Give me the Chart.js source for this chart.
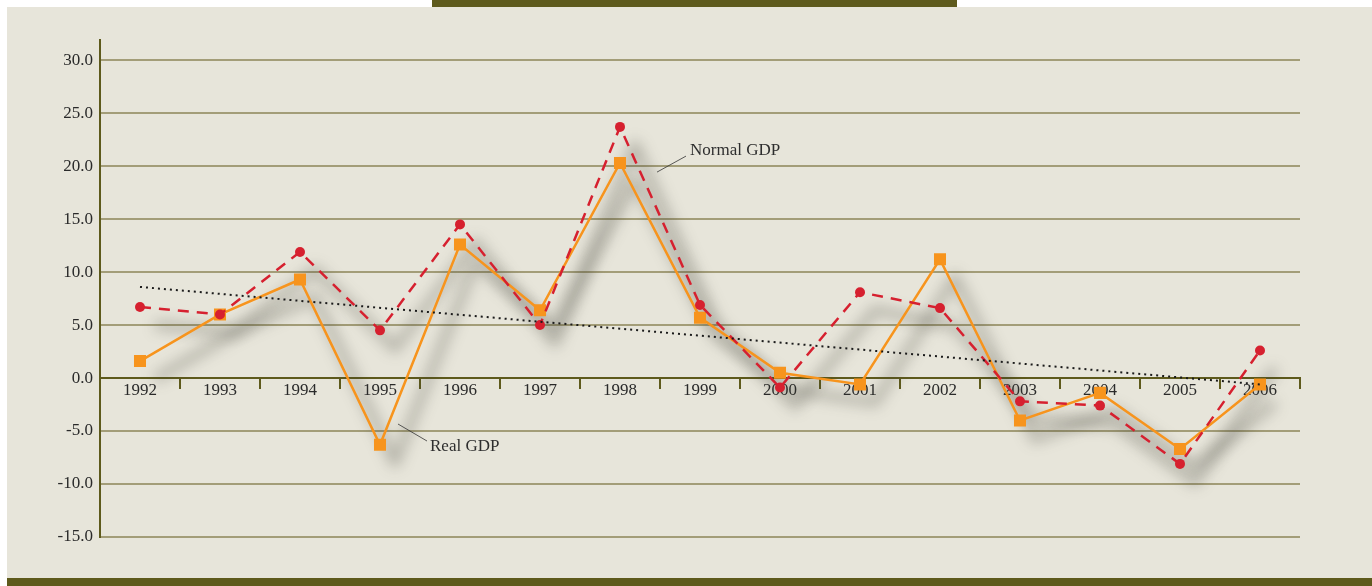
<!DOCTYPE html>
<html>
<head>
<meta charset="utf-8">
<script src="https://cdn.jsdelivr.net/npm/chart.js@4/dist/chart.umd.min.js"></script>
<style>
  body { margin: 0; background: #fff; }
  #panel { position: absolute; left: 7px; top: 7px; width: 1365px; height: 571px; background: #e7e5da; }
  #topbar { position: absolute; left: 432px; top: 0; width: 525px; height: 7px; background: #5e5a1c; }
  #bottombar { position: absolute; left: 7px; top: 578px; width: 1365px; height: 8px; background: #5e5a1c; }
  #gdp { position: absolute; left: 0; top: 0; }
</style>
</head>
<body>
<div id="panel"></div>
<div id="topbar"></div>
<div id="bottombar"></div>
<canvas id="gdp" width="1372" height="586"></canvas>
<script>
var years = ['1992', '1993', '1994', '1995', '1996', '1997', '1998', '1999', '2000', '2001', '2002', '2003', '2004', '2005', '2006'];
var normalGdp = [6.7, 6.0, 11.9, 4.5, 14.5, 5.0, 23.7, 6.9, -0.9, 8.1, 6.6, -2.2, -2.6, -8.1, 2.6];
var realGdp = [1.6, 6.0, 9.3, -6.3, 12.6, 6.4, 20.3, 5.7, 0.5, -0.6, 11.2, -4.0, -1.4, -6.7, -0.6];
var trend = [8.6, null, null, null, null, null, null, null, null, null, null, null, null, null, -0.6];

var olive = '#5e5a1c';
var gridCol = '#a39d78';
var serif = "'Liberation Serif', 'DejaVu Serif', serif";

// soft blurred grey shadow under the two GDP lines
var shadowPlugin = {
    id: 'shadow',
    beforeDatasetsDraw: function (chart) {
        var c = chart.ctx;
        c.save();
        c.filter = 'blur(7px)';
        c.strokeStyle = 'rgba(60,60,50,0.3)';
        c.lineWidth = 9;
        c.lineJoin = 'round';
        [1, 2].forEach(function (i) {
            var pts = chart.getDatasetMeta(i).data;
            c.beginPath();
            pts.forEach(function (p, k) {
                if (k === 0) c.moveTo(p.x + 15, p.y + 18);
                else c.lineTo(p.x + 15, p.y + 18);
            });
            c.stroke();
        });
        c.restore();
    }
};

// the two callout labels
var labelPlugin = {
    id: 'labels',
    afterDatasetsDraw: function (chart) {
        var c = chart.ctx;
        var x = chart.scales.x, y = chart.scales.y;
        c.save();
        c.strokeStyle = '#333';
        c.lineWidth = 0.8;
        c.fillStyle = '#2e2e2e';
        c.font = '17px ' + serif;
        c.textBaseline = 'middle';

        var nx = x.getPixelForValue(6), ny = y.getPixelForValue(20);
        c.beginPath();
        c.moveTo(nx + 37, ny + 6);
        c.lineTo(nx + 66, ny - 10);
        c.stroke();
        c.fillText('Normal GDP', nx + 70, ny - 16);

        var rx = x.getPixelForValue(3), ry = y.getPixelForValue(-5);
        c.beginPath();
        c.moveTo(rx + 18, ry - 7);
        c.lineTo(rx + 47, ry + 10);
        c.stroke();
        c.fillText('Real GDP', rx + 50, ry + 16);
        c.restore();
    }
};

new Chart(document.getElementById('gdp'), {
    type: 'line',
    data: {
        labels: years,
        datasets: [{
            label: 'Trend',
            data: trend,
            spanGaps: true,
            borderColor: '#1a1a1a',
            borderWidth: 2,
            borderDash: [2, 4],
            pointRadius: 0,
            fill: false
        }, {
            label: 'Normal GDP',
            data: normalGdp,
            borderColor: '#d6202f',
            borderWidth: 2.5,
            borderDash: [11, 8],
            pointStyle: 'circle',
            pointRadius: 5,
            pointBorderWidth: 0,
            pointBackgroundColor: '#d6202f',
            tension: 0,
            fill: false
        }, {
            label: 'Real GDP',
            data: realGdp,
            borderColor: '#f7941d',
            borderWidth: 2.5,
            pointStyle: 'rect',
            pointRadius: 8.5,
            pointBorderWidth: 0,
            pointBackgroundColor: '#f7941d',
            tension: 0,
            fill: false
        }]
    },
    options: {
        responsive: false,
        animation: false,
        layout: { padding: { left: 0, top: 40, right: 72, bottom: 49 } },
        plugins: { legend: { display: false }, tooltip: { enabled: false } },
        scales: {
            x: {
                position: { y: 0 },
                offset: true,
                afterFit: function (s) { s.height = 0; },
                grid: { offset: true, drawOnChartArea: false, drawTicks: true, tickLength: 10, color: olive, lineWidth: 2 },
                border: { color: olive, width: 2 },
                ticks: { autoSkip: false, maxRotation: 0, padding: -8, color: '#2a2a2a', font: { family: serif, size: 17 } }
            },
            y: {
                min: -15,
                max: 31.9,
                afterFit: function (s) { s.width = 100; },
                afterBuildTicks: function (s) {
                    s.ticks = s.ticks.filter(function (t) { return Math.abs(t.value % 5) < 1e-6; });
                },
                grid: { drawTicks: false, color: gridCol, lineWidth: 2 },
                border: { color: olive, width: 2 },
                ticks: {
                    stepSize: 5,
                    padding: 7,
                    color: '#2a2a2a',
                    font: { family: serif, size: 17 },
                    callback: function (v) { return v.toFixed(1); }
                }
            }
        }
    },
    plugins: [shadowPlugin, labelPlugin]
});
</script>
</body>
</html>
